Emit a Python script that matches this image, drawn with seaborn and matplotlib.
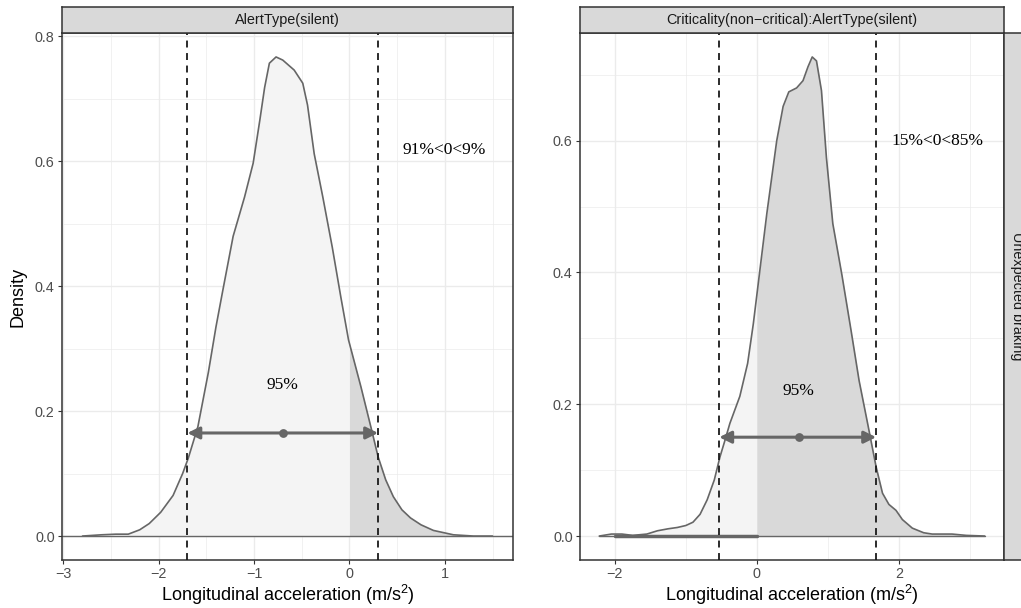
import numpy as np
import pandas as pd
import matplotlib
matplotlib.use("Agg")
import matplotlib.pyplot as plt
import seaborn as sns

# ---------------- data ----------------
left_x = [-2.80, -2.60, -2.45, -2.32, -2.20, -2.10, -1.98, -1.85, -1.75, -1.69,
          -1.59, -1.48, -1.40, -1.33, -1.22, -1.10, -1.01, -0.94, -0.89, -0.84,
          -0.77, -0.70, -0.58, -0.49, -0.44, -0.37, -0.28, -0.18, -0.09, -0.01,
          0.12, 0.24, 0.30, 0.38, 0.46, 0.55, 0.64, 0.75, 0.88, 1.09, 1.30, 1.50]
left_y = [0.000, 0.002, 0.003, 0.003, 0.010, 0.020, 0.038, 0.065, 0.100, 0.125,
          0.175, 0.262, 0.335, 0.392, 0.480, 0.543, 0.597, 0.666, 0.718, 0.757,
          0.767, 0.762, 0.746, 0.725, 0.690, 0.612, 0.543, 0.462, 0.382, 0.314,
          0.239, 0.165, 0.127, 0.090, 0.063, 0.042, 0.029, 0.018, 0.009, 0.002,
          0.000, 0.000]

right_x = [-2.22, -2.05, -1.90, -1.75, -1.55, -1.40, -1.25, -1.12, -1.00, -0.90,
           -0.80, -0.70, -0.60, -0.52, -0.45, -0.38, -0.24, -0.13, -0.05, 0.05,
           0.14, 0.28, 0.37, 0.45, 0.56, 0.65, 0.72, 0.78, 0.84, 0.91,
           0.98, 1.07, 1.20, 1.33, 1.44, 1.56, 1.68, 1.77, 1.86, 1.96,
           2.05, 2.19, 2.35, 2.47, 2.75, 2.95, 3.21]
right_y = [0.000, 0.003, 0.003, 0.001, 0.003, 0.008, 0.011, 0.013, 0.016, 0.021,
           0.033, 0.055, 0.085, 0.120, 0.145, 0.171, 0.212, 0.262, 0.322, 0.410,
           0.489, 0.600, 0.652, 0.674, 0.680, 0.691, 0.712, 0.727, 0.721, 0.676,
           0.574, 0.474, 0.395, 0.310, 0.236, 0.171, 0.105, 0.065, 0.048, 0.039,
           0.025, 0.012, 0.005, 0.003, 0.003, 0.001, 0.000]

left_ci = [-1.70, 0.30]
left_mid = -0.70
left_arrow_y = 0.165
right_ci = [-0.53, 1.68]
right_mid = 0.60
right_arrow_y = 0.15
right_thick_seg = [-2.0, 0.0]

left_pct_label = "95%"
left_pct_pos = (-0.70, 0.242)
left_split_label = "91%<0<9%"
left_split_pos = (0.99, 0.618)
right_pct_label = "95%"
right_pct_pos = (0.58, 0.22)
right_split_label = "15%<0<85%"
right_split_pos = (2.54, 0.60)

left_strip = "AlertType(silent)"
right_strip = "Criticality(non\u2212critical):AlertType(silent)"
row_strip = "Unexpected braking"
x_title = "Longitudinal acceleration (m/s$^{2}$)"
y_title = "Density"

left_xticks = [-3, -2, -1, 0, 1]
left_xminor = [-2.5, -1.5, -0.5, 0.5, 1.5]
left_yticks = [0.0, 0.2, 0.4, 0.6, 0.8]
left_yminor = [0.1, 0.3, 0.5, 0.7]
right_xticks = [-2, 0, 2]
right_xminor = [-1, 1, 3]
right_yticks = [0.0, 0.2, 0.4, 0.6]
right_yminor = [0.1, 0.3, 0.5, 0.7]

# ---------------- style ----------------
sns.set_theme(style="white")
plt.rcParams['font.family'] = ['Liberation Sans', 'DejaVu Sans']
plt.rcParams['mathtext.default'] = 'regular'
plt.rcParams['lines.scale_dashes'] = False

W, H = 1021, 608
fig = plt.figure(figsize=(W / 100, H / 100), dpi=100)
fig.patch.set_facecolor('white')

def px_axes(x0, y0, x1, y1):
    return fig.add_axes([x0 / W, (H - y1) / H, (x1 - x0) / W, (y1 - y0) / H])

OUTLINE = '#666666'
LIGHT = '#F4F4F4'
DARK = '#D9D9D9'
GRID = '#EBEBEB'
BORDER = '#333333'

def split_at_zero(x, y):
    x = np.asarray(x, float); y = np.asarray(y, float)
    y0 = np.interp(0.0, x, y)
    lx = np.append(x[x < 0], 0.0); ly = np.append(y[x < 0], y0)
    rx = np.insert(x[x > 0], 0, 0.0); ry = np.insert(y[x > 0], 0, y0)
    return lx, ly, rx, ry

def expand(lo, hi, f=0.05):
    d = (hi - lo) * f
    return lo - d, hi + d

def panel(ax, xs, ys, ci, mid, ay, xt, xm, yt, ym, pct, pct_pos, split, split_pos):
    df = pd.DataFrame({'x': xs, 'y': ys})
    lx, ly, rx, ry = split_at_zero(xs, ys)
    ax.fill_between(lx, 0, ly, color=LIGHT, lw=0, zorder=1)
    ax.fill_between(rx, 0, ry, color=DARK, lw=0, zorder=1)
    sns.lineplot(data=df, x='x', y='y', ax=ax, color=OUTLINE, lw=1.2,
                 sort=False, estimator=None, zorder=3)
    ax.lines[-1].set_solid_joinstyle('round')
    for v in ci:
        ax.axvline(v, color='#1A1A1A', lw=1.3, linestyle=(0, (5, 4)), zorder=4)
    ax.annotate('', xy=(ci[1], ay), xytext=(ci[0], ay),
                arrowprops=dict(arrowstyle='<|-|>,head_length=0.6,head_width=0.3',
                                color=OUTLINE, lw=2.2, mutation_scale=12,
                                shrinkA=0, shrinkB=0), zorder=5)
    sns.scatterplot(x=[mid], y=[ay], ax=ax, color=OUTLINE, s=40,
                    edgecolor=OUTLINE, linewidth=0, zorder=6)
    ax.text(pct_pos[0], pct_pos[1], pct, ha='center', va='center',
            fontsize=12.5, family=['Liberation Serif', 'DejaVu Serif'], color='black', zorder=7)
    ax.text(split_pos[0], split_pos[1], split, ha='center', va='center',
            fontsize=12.5, family=['Liberation Serif', 'DejaVu Serif'], color='black', zorder=7)

    ax.set_xlim(*expand(min(xs), max(xs)))
    ax.set_ylim(*expand(0.0, max(ys)))
    ax.set_xticks(xt)
    ax.set_xticks(xm, minor=True)
    ax.set_yticks(yt)
    ax.set_yticks(ym, minor=True)
    ax.set_yticklabels([f"{v:.1f}" for v in yt])
    ax.set_xticklabels([f"{v:g}".replace('-', '\u2212') for v in xt])
    ax.grid(True, which='major', color=GRID, lw=1.0)
    ax.grid(True, which='minor', color=GRID, lw=0.5)
    ax.set_axisbelow(True)
    ax.tick_params(which='major', direction='out', length=2.75, width=0.8,
                   color=BORDER, labelsize=10.4, labelcolor='#4D4D4D', pad=2.5,
                   bottom=True, left=True)
    ax.tick_params(which='minor', length=0)
    for s in ax.spines.values():
        s.set_visible(True)
        s.set_color(BORDER)
        s.set_linewidth(1.1)
    ax.set_facecolor('white')
    ax.set_xlabel(x_title, fontsize=13, color='black', va='center')
    ax.xaxis.set_label_coords(0.5, -(595 - 560) / 527)
    ax.set_ylabel('')

def strip(ax, text, rotation=0):
    ax.set_facecolor(DARK)
    ax.set_xticks([]); ax.set_yticks([])
    for s in ax.spines.values():
        s.set_visible(True)
        s.set_color(BORDER)
        s.set_linewidth(1.1)
    ax.text(0.5, 0.5, text, transform=ax.transAxes, ha='center', va='center',
            fontsize=10.4, color='#1A1A1A', rotation=rotation)

axL = px_axes(62, 33, 513, 560)
axR = px_axes(580, 33, 1004, 560)

panel(axL, left_x, left_y, left_ci, left_mid, left_arrow_y,
      left_xticks, left_xminor, left_yticks, left_yminor,
      left_pct_label, left_pct_pos, left_split_label, left_split_pos)
axL.axhline(0, color=OUTLINE, lw=1.0, zorder=2)

panel(axR, right_x, right_y, right_ci, right_mid, right_arrow_y,
      right_xticks, right_xminor, right_yticks, right_yminor,
      right_pct_label, right_pct_pos, right_split_label, right_split_pos)
axR.plot([min(right_x), max(right_x)], [0, 0], color=OUTLINE, lw=1.0, zorder=2)
axR.plot(right_thick_seg, [0, 0], color=OUTLINE, lw=2.5, zorder=2)

axL.set_ylabel(y_title, fontsize=13, color='black', va='center', ha='center')
axL.yaxis.set_label_coords((18 - 62) / 451, 0.5)

strip(px_axes(62, 7, 513, 33), left_strip)
strip(px_axes(580, 7, 1004, 33), right_strip)
strip(px_axes(1004, 33, 1030, 560), row_strip, rotation=-90)

fig.savefig('out.png', dpi=100, facecolor='white')
